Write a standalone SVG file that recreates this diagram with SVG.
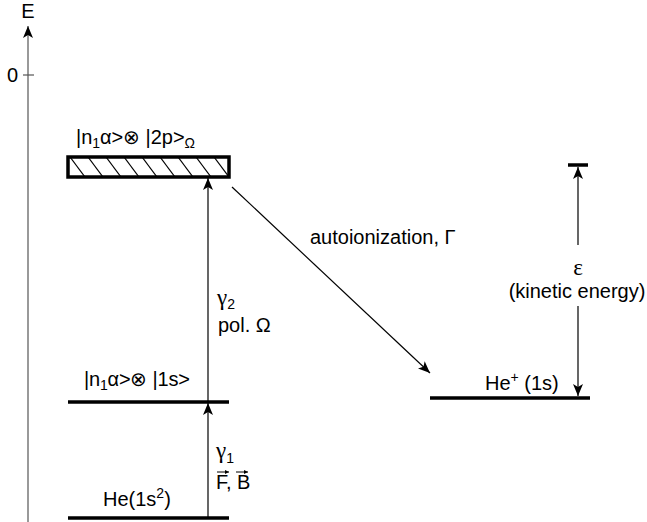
<svg xmlns="http://www.w3.org/2000/svg" width="647" height="522" viewBox="0 0 647 522">
  <style>
    text { font-family: "Liberation Sans", Arial, sans-serif; font-size: 20px; fill: #000; }
    .sub { font-size: 14px; }
    .greek { font-family: "Liberation Serif", "Times New Roman", serif; font-size: 23px; }
    .level { stroke: #000; stroke-width: 3.5; fill: none; }
    .conn { stroke: #000; stroke-width: 1.2; fill: none; }
    .axis { stroke: #555; stroke-width: 1.2; fill: none; }
    .hatch { stroke: #000; stroke-width: 1.2; }
    .vec { stroke: #000; stroke-width: 1; fill: none; }
  </style>
  <defs>
    <marker id="ah" viewBox="0 0 12 10" refX="12" refY="5" markerWidth="12" markerHeight="10" markerUnits="userSpaceOnUse" orient="auto">
      <path d="M0,0 L12,5 L0,10 L3,5 Z" fill="#000"/>
    </marker>
    <marker id="vh" viewBox="0 0 6 6" refX="6" refY="3" markerWidth="5" markerHeight="4" markerUnits="userSpaceOnUse" orient="auto">
      <path d="M0,0 L6,3 L0,6 Z" fill="#000"/>
    </marker>
    <clipPath id="boxclip">
      <rect x="68" y="157" width="161" height="20"/>
    </clipPath>
  </defs>

  <!-- energy axis -->
  <g id="axis">
    <line class="axis" x1="28" y1="522" x2="28" y2="26" marker-end="url(#ah)"/>
    <line class="axis" x1="23" y1="75" x2="34" y2="75"/>
    <text x="28" y="18" text-anchor="middle">E</text>
    <text x="7" y="82">0</text>
  </g>

  <!-- doubly excited resonance band -->
  <g id="resonance">
    <g clip-path="url(#boxclip)">
      <line class="hatch" x1="70" y1="157" x2="85" y2="177"/>
      <line class="hatch" x1="88" y1="157" x2="103" y2="177"/>
      <line class="hatch" x1="106" y1="157" x2="121" y2="177"/>
      <line class="hatch" x1="124" y1="157" x2="139" y2="177"/>
      <line class="hatch" x1="142" y1="157" x2="157" y2="177"/>
      <line class="hatch" x1="160" y1="157" x2="175" y2="177"/>
      <line class="hatch" x1="178" y1="157" x2="193" y2="177"/>
      <line class="hatch" x1="196" y1="157" x2="211" y2="177"/>
      <line class="hatch" x1="214" y1="157" x2="229" y2="177"/>
    </g>
    <rect x="68" y="157" width="161" height="20" fill="none" stroke="#000" stroke-width="3.5"/>
    <text x="76" y="144" textLength="119" lengthAdjust="spacing">|n<tspan class="sub" dy="4">1</tspan><tspan dy="-4">α&gt;⊗ |2p&gt;</tspan><tspan class="sub" dy="4">Ω</tspan></text>
  </g>

  <!-- intermediate level -->
  <g id="intermediate">
    <line class="level" x1="68" y1="402" x2="229" y2="402"/>
    <text x="84" y="386" textLength="106" lengthAdjust="spacing">|n<tspan class="sub" dy="4">1</tspan><tspan dy="-4">α&gt;⊗ |1s&gt;</tspan></text>
  </g>

  <!-- ground state -->
  <g id="ground">
    <line class="level" x1="68" y1="518" x2="229" y2="518"/>
    <text x="103" y="506">He(1s<tspan class="sub" dy="-8">2</tspan><tspan dy="8">)</tspan></text>
  </g>

  <!-- ion ground state -->
  <g id="ion">
    <line class="level" x1="430" y1="398" x2="590" y2="398"/>
    <text x="485" y="390">He<tspan class="sub" dy="-8">+</tspan><tspan dy="8"> (1s)</tspan></text>
  </g>

  <!-- kinetic energy span -->
  <g id="kinetic">
    <line class="level" x1="568" y1="165" x2="588" y2="165"/>
    <line class="conn" x1="578" y1="245" x2="578" y2="167" marker-end="url(#ah)"/>
    <line class="conn" x1="578" y1="306" x2="578" y2="396" marker-end="url(#ah)"/>
    <text class="greek" x="578" y="275" text-anchor="middle">ε</text>
    <text x="577" y="298" text-anchor="middle">(kinetic energy)</text>
  </g>

  <!-- transitions -->
  <g id="connectors">
    <line class="conn" x1="208" y1="518" x2="208" y2="403" marker-end="url(#ah)"/>
    <line class="conn" x1="208" y1="402" x2="208" y2="178" marker-end="url(#ah)"/>
    <line class="conn" x1="232" y1="187" x2="430" y2="373" marker-end="url(#ah)"/>
    <text x="216" y="458"><tspan class="greek">γ</tspan><tspan class="sub" dy="5">1</tspan></text>
    <text x="216" y="489">F, B</text>
    <line class="vec" x1="217" y1="472" x2="229" y2="472" marker-end="url(#vh)"/>
    <line class="vec" x1="236" y1="472" x2="248" y2="472" marker-end="url(#vh)"/>
    <text x="217" y="305"><tspan class="greek">γ</tspan><tspan class="sub" dy="4">2</tspan></text>
    <text x="218" y="332">pol. Ω</text>
    <text x="310" y="244">autoionization, Γ</text>
  </g>
</svg>
